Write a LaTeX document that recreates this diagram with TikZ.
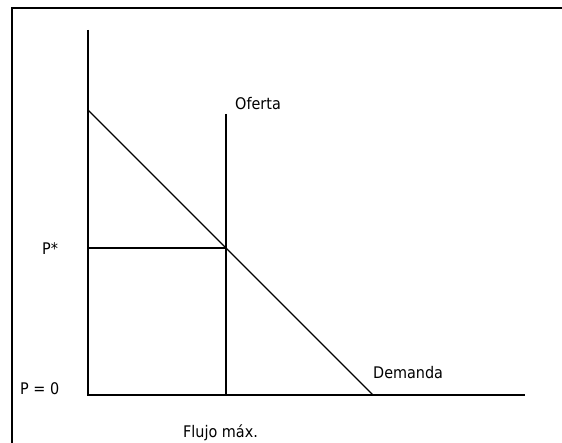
\documentclass[tikz,border=0pt]{standalone}
\usepackage{fontspec}
\setmainfont{DejaVu Sans Condensed}

\newcommand*{\xmin}{88}
\newcommand*{\xmax}{525}
\newcommand*{\ymin}{48}
\newcommand*{\ymax}{413}
\newcommand*{\qmax}{226}
\newcommand*{\pstar}{195}

\begin{document}
\begin{tikzpicture}[x=1bp,y=1bp,
	lbl/.style={inner sep=0pt,anchor=base west,font=\fontsize{16bp}{19bp}\selectfont}]

	\useasboundingbox (0,0) rectangle (562,443);

	% frame
	\draw[line width=2bp] (12,-5) -- (12,435) -- (575,435);

	\coordinate (o) at (\xmin,\ymin);
	\coordinate (ytop) at (\xmin,\ymax);
	\coordinate (xend) at (\xmax,\ymin);
	\coordinate (dtop) at (\xmin,333);
	\coordinate (dbot) at (373,\ymin);
	\coordinate (stop) at (\qmax,329);
	\coordinate (sbot) at (\qmax,\ymin);
	\coordinate (eq) at (\qmax,\pstar);
	\coordinate (pax) at (\xmin,\pstar);

	% axes
	\draw[line width=2bp] (ytop) -- (o) -- (xend);

	% demand and supply
	\draw[line width=1.3bp] (dtop) -- (dbot);
	\draw[line width=2bp] (stop) -- (sbot);
	\draw[line width=2bp] (pax) -- (eq);

	\node[lbl] (oferta) at (235,333) {Oferta};
	\node[lbl] (demanda) at (373,64) {Demanda};
	\node[lbl] (pst) at (42,188) {P*};
	\node[lbl] (pzero) at (20,48) {P = 0};
	\node[lbl] (flujo) at (183,5) {Flujo máx.};

\end{tikzpicture}
\end{document}
